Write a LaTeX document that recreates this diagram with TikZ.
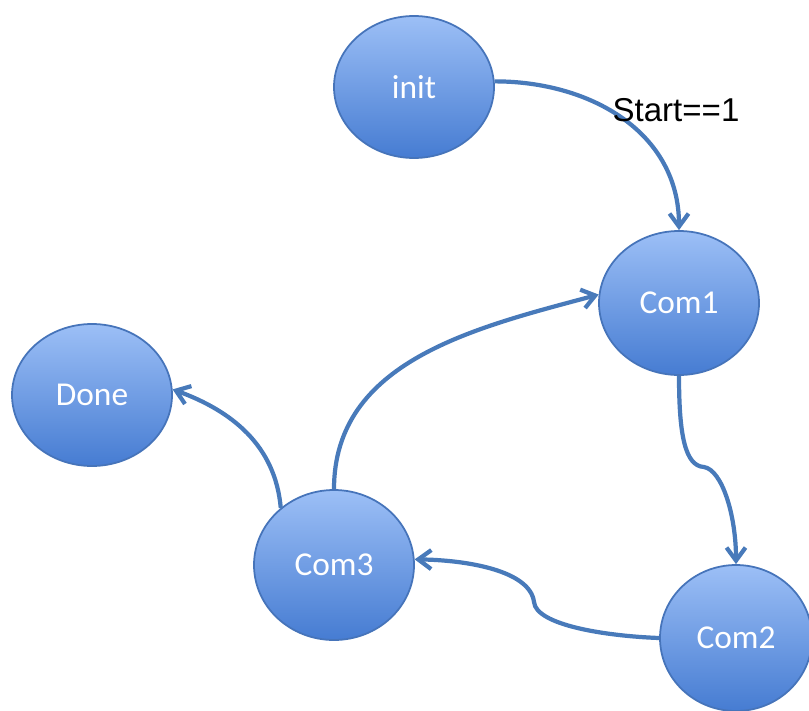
\documentclass[tikz,border=0pt]{standalone}
\usepackage{fontspec}
\setmainfont{Carlito}
\newfontfamily\condfont{Liberation Sans}
\usetikzlibrary{positioning, calc, shapes.geometric, arrows.meta}

\definecolor{stateTop}{RGB}{156,191,246}
\definecolor{stateBot}{RGB}{70,124,210}
\definecolor{stateLine}{RGB}{70,116,186}
\definecolor{transLine}{RGB}{72,122,186}

\begin{document}
\begin{tikzpicture}[
    state/.style={ellipse, draw=stateLine, line width=0.5pt,
      top color=stateTop, bottom color=stateBot, text=white,
      minimum width=1.6cm, minimum height=1.42cm, inner sep=0pt,
      font=\fontsize{9.5}{11}\selectfont},
    trans/.style={draw=transLine, line width=1.2pt,
      -{Straight Barb[length=1.3mm,width=1.9mm]}}
  ]
  \useasboundingbox (0,0) rectangle (8.09,-7.10);
  \clip (0,0) rectangle (8.09,-7.10);

  % states
  \node[state] (init) at (4.14,-0.87) {init};
  \node[state, minimum height=1.44cm] (com1) at (6.79,-3.03) {Com1};
  \node[state] (done) at (0.92,-3.95) {Done};
  \node[state, minimum height=1.5cm] (com3) at (3.34,-5.65) {Com3};
  \node[state, minimum width=1.52cm, minimum height=1.46cm] (com2) at (7.36,-6.38) {Com2};

  % transitions
  \draw[trans] (init.4) to[out=0, in=90, looseness=1.05] (com1.north);
  \node[font=\condfont\fontsize{9.4}{11}\selectfont] (cond) at (6.76,-1.10) {Start==1};
  \draw[trans] (com1.south) .. controls (6.79,-4.35) and (6.85,-4.66) .. (7.04,-4.67)
    .. controls (7.22,-4.70) and (7.36,-5.15) .. (com2.90);
  \draw[trans] (com2.west) .. controls (6.05,-6.36) and (5.36,-6.25) .. (5.34,-6.02)
    .. controls (5.30,-5.70) and (4.65,-5.60) .. (com3.4);
  \draw[trans] (com3.north) to[out=90, in=195] (com1.174);
  \draw[trans] (com3.133) to[out=95, in=-20] (done.4);
\end{tikzpicture}
\end{document}
